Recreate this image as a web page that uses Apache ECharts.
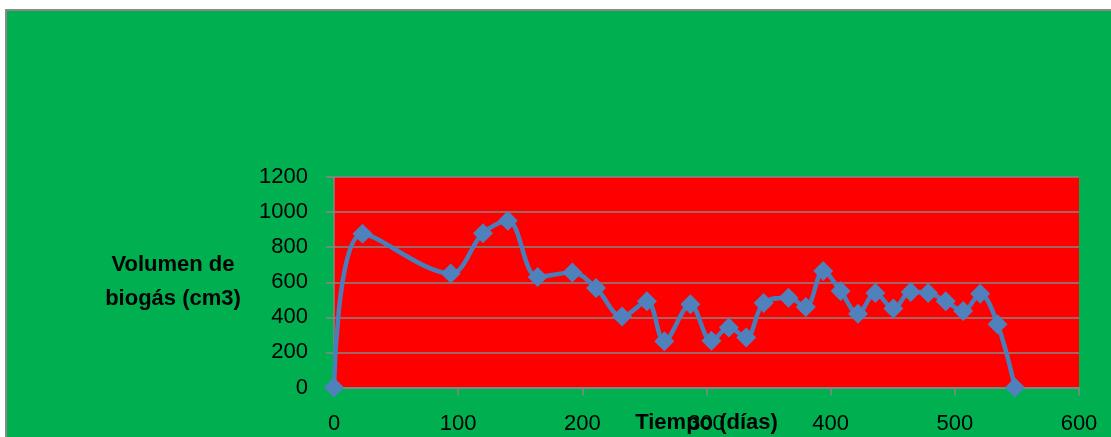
<!DOCTYPE html>
<html>
<head>
<meta charset="utf-8">
<script src="https://cdn.jsdelivr.net/npm/echarts@6/dist/echarts.min.js"></script>
<style>
html,body{margin:0;padding:0;background:#ffffff;}
#chart{width:1111px;height:437px;}
</style>
</head>
<body>
<div id="chart"></div>
<script>
// Tiempo (días)
const dias = [0, 23, 94, 120, 140, 164, 192, 211, 232, 252, 266, 287, 304, 318, 332, 346, 366, 380, 394, 408, 422, 436, 450.5, 464.5, 478.5, 492.7, 506.7, 520.4, 534.4, 548.4];
// Volumen de biogás (cm3)
const volumen = [0, 876, 650, 880, 950, 630, 655, 567, 405, 491, 264, 474, 266, 342, 285, 482, 512, 459, 664, 550, 420, 539, 450, 544, 539, 491, 436, 535, 361, 0];
const yTicks = [0, 200, 400, 600, 800, 1000, 1200];
const xTicks = [0, 100, 200, 300, 400, 500, 600];

const points = dias.map((d, i) => [d, volumen[i]]);
const FONT = '"Liberation Sans", Arial, sans-serif';

const chart = echarts.init(document.getElementById('chart'), null, {renderer: 'canvas'});
chart.setOption({
  animation: false,
  backgroundColor: '#ffffff',
  graphic: [{
    type: 'rect',
    z: -10,
    shape: {x: 6, y: 10, width: 1120, height: 440},
    style: {fill: '#00B050', stroke: '#898989', lineWidth: 2}
  }],
  grid: {
    left: 334, right: 32, top: 177, bottom: 49.5,
    outerBoundsMode: 'none',
    containLabel: false,
    show: true, backgroundColor: '#FF0000', borderWidth: 0
  },
  xAxis: {
    type: 'value',
    min: xTicks[0], max: xTicks[xTicks.length - 1], interval: 100,
    name: 'Tiempo (días)',
    nameLocation: 'middle',
    nameGap: 24,
    nameMoveOverlap: false,
    nameTextStyle: {fontFamily: FONT, fontSize: 22, fontWeight: 'bold', color: '#000'},
    axisLine: {show: true, lineStyle: {color: '#868686', width: 1.5}},
    axisTick: {show: true, length: 8, lineStyle: {color: '#868686', width: 1.5}},
    axisLabel: {fontFamily: FONT, fontSize: 22, color: '#000', margin: 25, formatter: v => String(v)},
    splitLine: {show: false}
  },
  yAxis: {
    type: 'value',
    min: yTicks[0], max: yTicks[yTicks.length - 1], interval: 200,
    name: 'Volumen de\nbiogás (cm3)',
    nameLocation: 'middle',
    nameRotate: 0,
    nameGap: 161,
    nameMoveOverlap: false,
    nameTextStyle: {fontFamily: FONT, fontSize: 22, fontWeight: 'bold', color: '#000', align: 'center', verticalAlign: 'middle', lineHeight: 34, padding: [16, 0, 0, 0]},
    axisLine: {show: true, lineStyle: {color: '#868686', width: 1.5}},
    axisTick: {show: true, length: 8, lineStyle: {color: '#868686', width: 1.5}},
    axisLabel: {fontFamily: FONT, fontSize: 22, color: '#000', margin: 26, formatter: v => String(v)},
    splitLine: {show: true, lineStyle: {color: '#868686', width: 1.5}}
  },
  series: [{
    type: 'line',
    data: points,
    smooth: 0.35,
    symbol: 'diamond',
    symbolSize: 20,
    lineStyle: {color: '#4A7EBB', width: 4.5},
    itemStyle: {color: '#4F81BD'},
    z: 5
  }]
});
</script>
</body>
</html>
